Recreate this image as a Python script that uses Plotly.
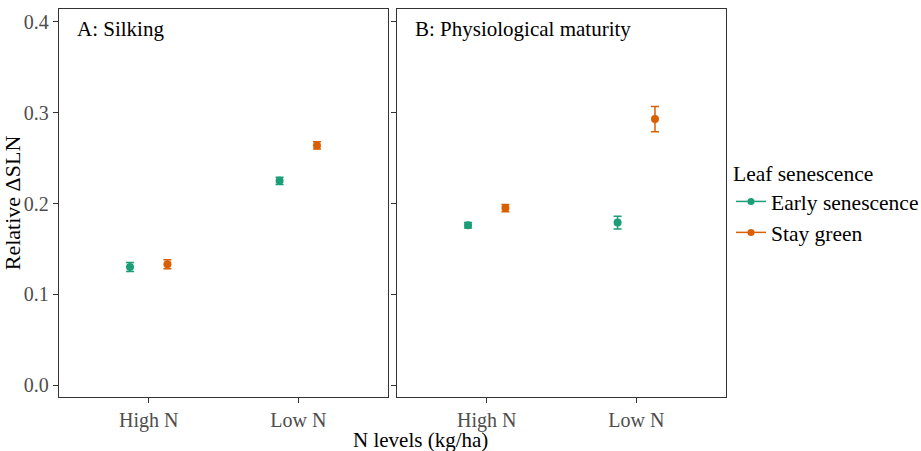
import plotly.graph_objects as go

n_levels = ["High N", "Low N"]
stages = ["A: Silking", "B: Physiological maturity"]
groups = ["Early senescence", "Stay green"]
colors = {"Early senescence": "#1b9e77", "Stay green": "#d95f02"}

# values [stage][group] -> per N level
mean_vals = {
    "A: Silking": {"Early senescence": [0.130, 0.225], "Stay green": [0.133, 0.264]},
    "B: Physiological maturity": {"Early senescence": [0.176, 0.179], "Stay green": [0.195, 0.293]},
}
se_vals = {
    "A: Silking": {"Early senescence": [0.005, 0.004], "Stay green": [0.005, 0.004]},
    "B: Physiological maturity": {"Early senescence": [0.003, 0.007], "Stay green": [0.004, 0.014]},
}
y_ticks = [0.0, 0.1, 0.2, 0.3, 0.4]

FONT = "Liberation Serif"
fig = go.Figure()
axes = [("x", "y"), ("x2", "y2")]
for si, stage in enumerate(stages):
    xa, ya = axes[si]
    for g in groups:
        fig.add_trace(go.Scatter(
            x=n_levels, y=mean_vals[stage][g], mode="markers", name=g,
            xaxis=xa, yaxis=ya, showlegend=False, offsetgroup=g,
            marker=dict(color=colors[g], size=8),
            error_y=dict(type="data", array=se_vals[stage][g], color=colors[g],
                         thickness=1.5, width=4),
        ))
# legend entries
for g in groups:
    fig.add_trace(go.Scatter(
        x=[None], y=[None], mode="lines+markers", name=g,
        xaxis="x3", yaxis="y3",
        marker=dict(color=colors[g], size=7), line=dict(color=colors[g], width=1.5),
    ))

tickfont = dict(family=FONT, size=20, color="#4d4d4d")
common_x = dict(type="category", range=[-0.6, 1.6], showline=True, mirror=True,
                linecolor="#333333", linewidth=1.3, ticks="outside", ticklen=5,
                tickcolor="#333333", tickfont=tickfont, showgrid=False, zeroline=False,
                categoryorder="array", categoryarray=n_levels)
common_y = dict(range=[-0.0132, 0.4143], tickvals=y_ticks, ticktext=[f"{v:.1f}" for v in y_ticks],
                showline=True, mirror=True, linecolor="#333333", linewidth=1.3,
                ticks="outside", ticklen=5, tickcolor="#333333", tickfont=tickfont,
                showgrid=False, zeroline=False)

W = 726 - 59
fig.update_layout(
    width=921, height=451,
    margin=dict(l=59, r=921 - 726, t=9, b=54, autoexpand=False),
    paper_bgcolor="white", plot_bgcolor="white",
    scattermode="group", scattergap=0.5,
    font=dict(family=FONT, size=20, color="black"),
    xaxis=dict(domain=[0, 329 / W], anchor="y", **common_x),
    xaxis2=dict(domain=[338 / W, 1], anchor="y2", **common_x),
    yaxis=dict(domain=[0, 1], anchor="x", **common_y,
               title=dict(text="Relative ΔSLN", font=dict(family=FONT, size=22, color="black"), standoff=4)),
    yaxis2=dict(domain=[0, 1], anchor="x2", **{**common_y, "showticklabels": False}),
    xaxis3=dict(domain=[0, 0.001], anchor="y3", visible=False),
    yaxis3=dict(domain=[0, 0.001], anchor="x3", visible=False),
    legend=dict(x=(731 - 59) / W, y=(397 - 153) / 388, xanchor="left", yanchor="top",
                title=dict(text="Leaf senescence", font=dict(family=FONT, size=21.5, color="black")),
                font=dict(family=FONT, size=21.5, color="black"), itemwidth=30,
                bgcolor="rgba(0,0,0,0)", tracegroupgap=0),
    annotations=[
        dict(text=stages[0], xref="x domain", yref="y domain", x=0.05, y=0.985,
             xanchor="left", yanchor="top", showarrow=False, font=dict(family=FONT, size=21, color="black")),
        dict(text=stages[1], xref="x2 domain", yref="y2 domain", x=0.05, y=0.985,
             xanchor="left", yanchor="top", showarrow=False, font=dict(family=FONT, size=21, color="black")),
        dict(text="N levels (kg/ha)", xref="paper", yref="paper", x=(420 - 59) / W, y=-0.074,
             xanchor="center", yanchor="top", showarrow=False, font=dict(family=FONT, size=21, color="black")),
    ],
)
fig.write_html("out.html")
